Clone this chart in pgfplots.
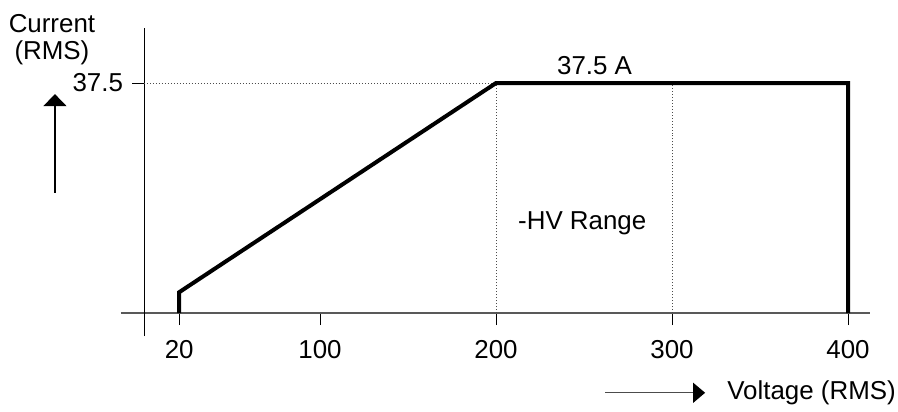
\documentclass[border=0pt]{standalone}
\usepackage{pgfplots}
\pgfplotsset{compat=1.18}
\usepackage{fontspec}
\setmainfont{Liberation Sans}
\usetikzlibrary{arrows.meta}
\begin{document}
\begin{tikzpicture}[font=\fontsize{13}{15.6}\selectfont]
\begin{axis}[
  x=0.88bp, y=3.0667bp,
  xmin=-13.1, xmax=412.5, ymin=-3.75, ymax=46.47,
  axis lines=middle,
  axis line style={-},
  x axis line style={draw=black!65, line width=0.6bp},
  y axis line style={draw=black, line width=0.5bp},
  clip=false,
  xtick={20,100,200,300,400},
  xticklabels={20,100,200,300,400},
  ytick={37.5}, yticklabels={37.5},
  tick align=outside,
  major tick length=6bp,
  tick style={black, line width=0.5bp},
  /pgf/number format/assume math mode=true,
  xticklabel style={yshift=-4bp},
  yticklabel style={xshift=-1bp},
]
\coordinate (bbA) at (axis cs:-81.82,51.04);
\coordinate (bbB) at (axis cs:428.4,-15.98);
\addplot[densely dotted, black!70, line width=0.5bp] coordinates {(0,37.5) (200,37.5)};
\addplot[densely dotted, black!70, line width=0.5bp] coordinates {(200,0) (200,37.5)};
\addplot[densely dotted, black!70, line width=0.5bp] coordinates {(300,0) (300,37.5)};
\addplot[black, line width=2bp, line join=miter] coordinates {(20,0) (20,3.4) (200,37.5) (400,37.5) (400,0)};
\addplot[black, line width=0.6bp, -{Triangle[width=11.5bp,length=6bp]}] coordinates {(-50.6,19.6) (-50.6,35.7)};
\addplot[black!70, line width=0.6bp, -{Triangle[width=10bp,length=6bp,color=black]}] coordinates {(262,-13) (318.8,-13)};
\node at (axis cs:256,40.4) {37.5 A};
\node at (axis cs:249,14.7) {-HV Range};
\node[anchor=west, inner sep=0pt] at (axis cs:331.2,-13) {Voltage (RMS)};
\node at (axis cs:-52.3,47.2) {Current};
\node at (axis cs:-52.3,42.4) {(RMS)};
\end{axis}
\pgfresetboundingbox
\path[use as bounding box] (bbA) rectangle (bbB);
\end{tikzpicture}
\end{document}
